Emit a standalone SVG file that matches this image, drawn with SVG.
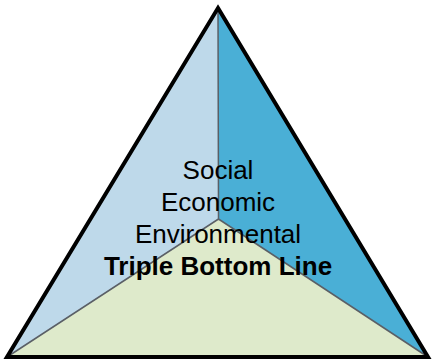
<svg xmlns="http://www.w3.org/2000/svg" width="433" height="361" viewBox="0 0 433 361">
<style>
.div{stroke:#5a5f66;stroke-width:1.5;fill:none}
.t{font-family:"Liberation Sans",Arial,sans-serif;font-size:26px;fill:#000;text-anchor:middle}
.b{font-weight:bold}
</style>
<rect width="433" height="361" fill="#fff"/>
<g id="social">
<polygon points="218,8 218.5,219 7,357" fill="#bed9ea"/>
</g>
<g id="economic">
<polygon points="218,8 428,357 218.5,219" fill="#4aafd6"/>
</g>
<g id="environmental">
<polygon points="7,357 218.5,219 428,357" fill="#deeacb"/>
</g>
<g id="connectors">
<path class="div" d="M218,8 L218.5,219 M7,357 L218.5,219 L428,357"/>
</g>
<g id="outline">
<polygon points="218,8 428,357 7,357" fill="none" stroke="#000" stroke-width="4" stroke-linejoin="miter"/>
</g>
<g id="labels">
<text class="t" x="218" y="179">Social</text>
<text class="t" x="218" y="211">Economic</text>
<text class="t" x="218" y="243">Environmental</text>
<text class="t b" x="218" y="275">Triple Bottom Line</text>
</g>
</svg>
